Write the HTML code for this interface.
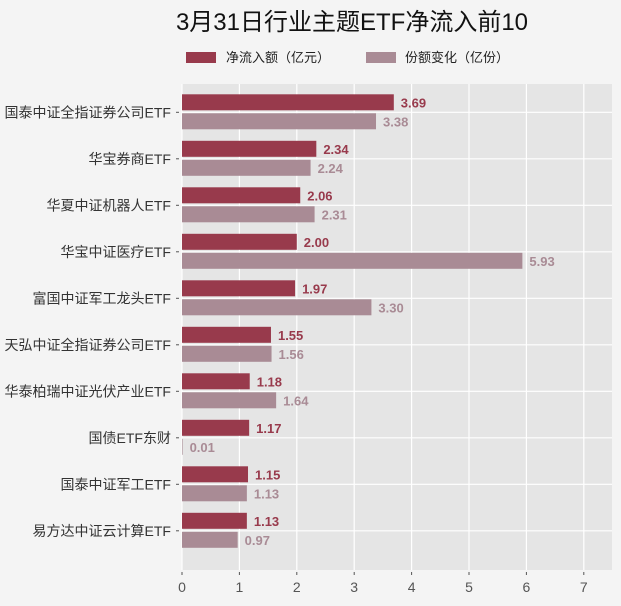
<!DOCTYPE html>
<html><head><meta charset="utf-8"><style>
body{margin:0;background:#f4f4f4;}
svg{display:block;font-family:"Liberation Sans","Noto Sans CJK SC",sans-serif;}
</style></head><body>
<svg id="c" width="621" height="606">
<rect width="621" height="606" fill="#f4f4f4"/>
<text x="352" y="30" font-size="24" text-anchor="middle" fill="#111">3月31日行业主题ETF净流入前10</text>
<g>
<rect x="186" y="52" width="30" height="11" fill="#983a4c"/>
<text x="226" y="62" font-size="13" fill="#222">净流入额（亿元）</text>
<rect x="366" y="52" width="30" height="11" fill="#a98b95"/>
<text x="405" y="62" font-size="13" fill="#222">份额变化（亿份）</text>
</g>
<g id="plot"></g>
</svg>
<script>
const categories=["国泰中证全指证券公司ETF","华宝券商ETF","华夏中证机器人ETF","华宝中证医疗ETF","富国中证军工龙头ETF","天弘中证全指证券公司ETF","华泰柏瑞中证光伏产业ETF","国债ETF东财","国泰中证军工ETF","易方达中证云计算ETF"];
const inflow=[3.69,2.34,2.06,2.00,1.97,1.55,1.18,1.17,1.15,1.13];
const shares=[3.38,2.24,2.31,5.93,3.30,1.56,1.64,0.01,1.13,0.97];
const ticks=[0,1,2,3,4,5,6,7];
const NS="http://www.w3.org/2000/svg";
const g=document.getElementById('plot');
const L=182,R=612,T=84,B=570;
const x=v=>L+v*57.4;
const y=i=>112.3+i*46.5;
function mk(t,a,p){const e=document.createElementNS(NS,t);for(const k in a)e.setAttribute(k,a[k]);(p||g).appendChild(e);return e;}
let bg=mk('rect',{x:L,y:T,width:R-L,height:B-T,fill:'#e5e5e5'});


ticks.forEach(t=>{
 let l=mk('line',{x1:x(t),x2:x(t),y1:T,y2:B,stroke:'#fff','stroke-width':1.2});
 
 
 let tk=mk('line',{x1:x(t),x2:x(t),y1:B+2,y2:B+5,stroke:'#555'});
 
 
 let tx=mk('text',{x:x(t),y:B+22,'font-size':14,'text-anchor':'middle',fill:'#555'});
 tx.textContent=t;
 
 
});
categories.forEach((c,i)=>{
 const cy=y(i);
 let gl=mk('line',{x1:L,x2:R,y1:cy,y2:cy,stroke:'#fff','stroke-width':1.2});
 
 
 let tk=mk('line',{x1:L-6,x2:L-3,y1:cy,y2:cy,stroke:'#555'});
 
 
 let lb=mk('text',{x:L-11,y:cy+5,'font-size':14,'text-anchor':'end',fill:'#333'});
 lb.textContent=c;
 
 
 let b1=mk('rect',{x:L,y:cy-18,width:x(inflow[i])-L,height:16,fill:'#983a4c'});
 
 
 let v1=mk('text',{x:x(inflow[i])+7,y:cy-5,'font-size':13,'font-weight':'bold',fill:'#983a4c'});
 v1.textContent=inflow[i].toFixed(2);
 
 
 let b2=mk('rect',{x:L,y:cy+1,width:Math.max(0,x(shares[i])-L),height:16,fill:'#a98b95'});
 
 
 let v2=mk('text',{x:x(shares[i])+7,y:cy+14,'font-size':13,'font-weight':'bold',fill:'#a98b95'});
 v2.textContent=shares[i].toFixed(2);
 
 
});
</script>
</body></html>
